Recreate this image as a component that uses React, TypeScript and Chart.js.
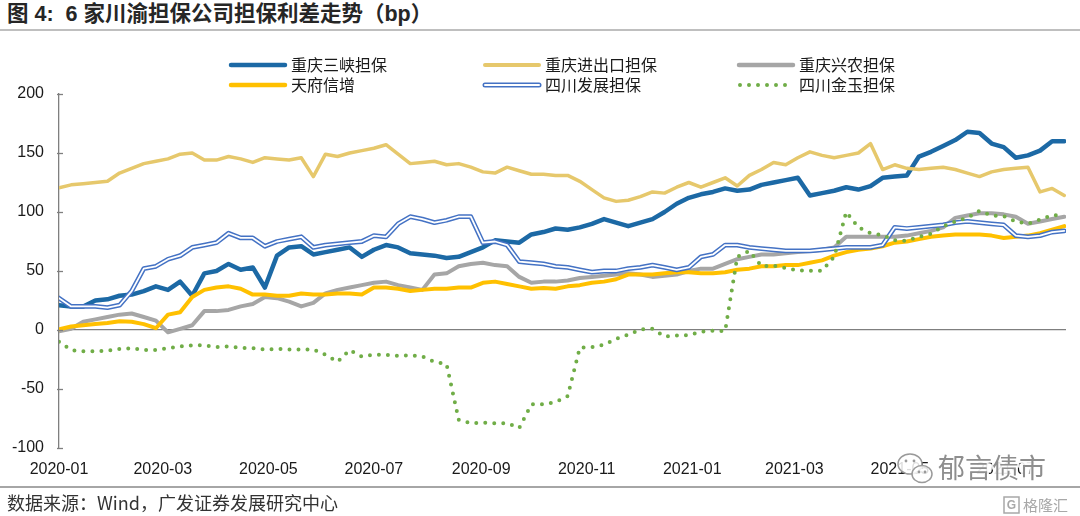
import React, { useEffect, useRef } from 'react';
import { Chart, registerables } from 'chart.js';

Chart.register(...registerables);

// ---------- data ----------
const dates = [
  '2020-01-01', '2020-01-08', '2020-01-15', '2020-01-22', '2020-01-29', '2020-02-05', '2020-02-12', '2020-02-19', '2020-02-26', '2020-03-04',
  '2020-03-11', '2020-03-18', '2020-03-25', '2020-04-01', '2020-04-08', '2020-04-15', '2020-04-22', '2020-04-29', '2020-05-06', '2020-05-13',
  '2020-05-20', '2020-05-27', '2020-06-03', '2020-06-10', '2020-06-17', '2020-06-24', '2020-07-01', '2020-07-08', '2020-07-15', '2020-07-22',
  '2020-07-29', '2020-08-05', '2020-08-12', '2020-08-19', '2020-08-26', '2020-09-02', '2020-09-09', '2020-09-16', '2020-09-23', '2020-09-30',
  '2020-10-07', '2020-10-14', '2020-10-21', '2020-10-28', '2020-11-04', '2020-11-11', '2020-11-18', '2020-11-25', '2020-12-02', '2020-12-09',
  '2020-12-16', '2020-12-23', '2020-12-30', '2021-01-06', '2021-01-13', '2021-01-20', '2021-01-27', '2021-02-03', '2021-02-10', '2021-02-17',
  '2021-02-24', '2021-03-03', '2021-03-10', '2021-03-17', '2021-03-24', '2021-03-31', '2021-04-07', '2021-04-14', '2021-04-21', '2021-04-28',
  '2021-05-05', '2021-05-12', '2021-05-19', '2021-05-26', '2021-06-02', '2021-06-09', '2021-06-16', '2021-06-23', '2021-06-30', '2021-07-07',
  '2021-07-14', '2021-07-21', '2021-07-28', '2021-08-04',
];

const sanxia = [
  21, 20, 20, 25, 26, 29, 30, 33, 37, 34,
  41, 29, 48, 50, 56, 51, 53, 36, 63, 70,
  71, 64, 66, 68, 70, 62, 68, 72, 70, 65,
  64, 63, 61, 62, 66, 70, 76, 75, 74, 81,
  83, 86, 85, 87, 90, 94, 91, 88, 91, 94,
  100, 107, 112, 115, 117, 120, 118, 119, 123, 125,
  127, 129, 114, 116, 118, 121, 119, 122, 129, 130,
  131, 147, 151, 156, 161, 168, 167, 158, 155, 146,
  148, 152, 160, 160,
];

const jinchukou = [
  120.5, 123, 124, 125, 126, 133, 137, 141, 143, 145,
  149, 150, 144, 144, 147, 145, 142, 146, 145, 144,
  146, 130, 149, 147, 150, 152, 154, 157, 149, 141,
  142, 143, 140, 141, 138, 134, 133, 138, 135, 132,
  132, 131, 131, 126, 119, 112, 109, 110, 113, 117,
  116, 121, 125, 121, 125, 129, 122, 131, 136, 142,
  140, 146, 151, 148, 146, 148, 150, 158, 136, 140,
  137, 136, 137, 138, 136, 133, 130, 134, 136, 137,
  138, 117, 120, 114,
];

const xingnong = [
  -1, 1, 7, 9, 11, 13, 14, 11, 8, -2,
  1, 4, 16, 16, 17, 20, 22, 28, 27, 24,
  20, 23, 31, 34, 36, 38, 40, 41, 38, 36,
  34, 47, 48, 54, 56, 57, 55, 54, 45, 40,
  41, 41, 42, 44, 45, 46, 47, 48, 47, 45,
  46, 47, 50, 52, 52, 56, 60, 62, 64, 64,
  65, 66, 67, 68, 70, 79, 79, 79, 79, 79,
  80, 82, 84, 87, 95, 97, 99, 99, 98, 96,
  90, 92, 94, 96,
];

const tianfu = [
  0.5, 3, 4, 5, 6, 7.5, 7, 5, 1.5, 13,
  15, 28, 34, 36, 37, 35, 30, 30, 29, 29,
  31, 30, 30, 31, 31, 30, 36, 36, 35, 33,
  34, 35, 35, 36, 36, 40, 41, 39, 37, 35,
  35.5, 35, 37, 38, 40, 41, 43, 47, 47, 47,
  48, 49, 49, 48, 48, 49, 51, 52, 54, 54,
  55, 55, 57, 59, 63, 66, 68, 69, 71, 74,
  75, 77, 79, 80, 81, 81, 81, 80, 78, 79,
  80, 82, 85, 88,
];

const sichuanFazhan = [
  27, 20, 20, 20, 19, 21, 33, 52, 54, 60,
  63, 70, 72, 74, 82, 78, 78, 71, 75, 77,
  79, 70, 72, 73, 74, 75, 80, 79, 90, 96,
  94, 91, 93, 96, 96, 74, 75, 72, 58, 57,
  56, 54, 53, 51, 49, 50, 50, 52, 53, 55,
  53, 51, 53, 62, 64, 72, 72, 70, 69, 68,
  67, 67, 67, 68, 69, 70, 70, 70, 72, 87,
  86, 87, 88, 89, 91, 92, 91, 90, 89, 80,
  79, 80, 83, 84,
];

const sichuanJinyu = [
  -10, -17, -18, -18, -17.5, -16, -15.5, -17, -17, -15.5,
  -14, -13, -13, -14.5, -14, -15, -15.5, -16.5, -16, -16.5,
  -16.5, -16.5, -21, -27, -17, -22.5, -21, -21, -22, -21.5,
  -22.5, -27, -29, -76, -79, -78.5, -79, -79, -83, -63,
  -63, -61, -56, -15, -14.5, -12.5, -7.5, -4, 0.5, 1,
  -5.5, -4.6, -4.3, -1.5, -0.6, -1, 62, 67, 54, 54.5,
  52.5, 50.5, 50.2, 50.2, 62, 100, 87, 82, 80.5, 76,
  75.5, 79, 81.5, 88, 92, 95, 101, 97, 96.5, 92,
  90, 93.5, 97.5, 96.5,
];

const seriesNames = ['重庆三峡担保', '重庆进出口担保', '重庆兴农担保', '天府信增', '四川发展担保', '四川金玉担保'];

const tickDates = ['2020-01-01', '2020-03-01', '2020-05-01', '2020-07-01', '2020-09-01', '2020-11-01', '2021-01-01', '2021-03-01', '2021-05-01', '2021-07-01'];
const tickLabels = ['2020-01', '2020-03', '2020-05', '2020-07', '2020-09', '2020-11', '2021-01', '2021-03', '2021-05', '2021-07'];
const axisStartDate = '2020-01-01';
const axisEndDate = '2021-08-05';
const yTicks = { min: -100, max: 200, step: 50 };

const titleText = '图 4:  6 家川渝担保公司担保利差走势（bp）';
const sourceText = '数据来源：Wind，广发证券发展研究中心';
const watermarkText = '郁言债市';
const logoText = '格隆汇';

// ---------- styles ----------
const C_SANXIA = '#1C69A5';
const C_JCK = '#E6C86C';
const C_XN = '#A6A6A6';
const C_TF = '#FFC000';
const C_FZ = '#4472C4';
const C_JY = '#70AD47';
const AXIS = '#7F7F7F';
const TEXT = '#1A1A1A';
const LATIN = '"Liberation Sans", Arial, "Noto Sans CJK SC", sans-serif';
const CJK = '"Noto Sans CJK SC", "Liberation Sans", sans-serif';

const dayOf = (s: string) =>
  (Date.UTC(+s.slice(0, 4), +s.slice(5, 7) - 1, +s.slice(8, 10)) - Date.UTC(2020, 0, 1)) / 86400000;

const legendLayout = [
  { name: seriesNames[0], kind: 'solid', color: C_SANXIA, width: 4.5, x: 231, y: 65 },
  { name: seriesNames[1], kind: 'solid', color: C_JCK, width: 4, x: 485, y: 65 },
  { name: seriesNames[2], kind: 'solid', color: C_XN, width: 4.5, x: 739, y: 65 },
  { name: seriesNames[3], kind: 'solid', color: C_TF, width: 4.5, x: 231, y: 85 },
  { name: seriesNames[4], kind: 'double', color: C_FZ, width: 5, x: 485, y: 85 },
  { name: seriesNames[5], kind: 'dot', color: C_JY, width: 4, x: 739, y: 85 },
];

const overlayPlugin = {
  id: 'overlay',
  afterDraw(chart: any) {
    const ctx: CanvasRenderingContext2D = chart.ctx;
    const ys = chart.scales.y;
    ctx.save();
    // cross tick marks on y-axis
    ctx.strokeStyle = AXIS;
    ctx.lineWidth = 1.3;
    ys.ticks.forEach((t: any) => {
      const py = Math.round(ys.getPixelForValue(t.value)) + 0.5;
      ctx.beginPath();
      ctx.moveTo(ys.right - 2, py);
      ctx.lineTo(ys.right + 4, py);
      ctx.stroke();
    });
    // legend
    legendLayout.forEach((it) => {
      const x0 = it.x, x1 = it.x + 54, y = it.y;
      ctx.setLineDash([]);
      ctx.lineCap = 'round';
      if (it.kind === 'solid') {
        ctx.strokeStyle = it.color; ctx.lineWidth = it.width;
        ctx.beginPath(); ctx.moveTo(x0, y); ctx.lineTo(x1, y); ctx.stroke();
      } else if (it.kind === 'double') {
        ctx.strokeStyle = it.color; ctx.lineWidth = it.width;
        ctx.beginPath(); ctx.moveTo(x0, y); ctx.lineTo(x1, y); ctx.stroke();
        ctx.strokeStyle = '#ffffff'; ctx.lineWidth = 2;
        ctx.beginPath(); ctx.moveTo(x0, y); ctx.lineTo(x1, y); ctx.stroke();
      } else {
        ctx.strokeStyle = it.color; ctx.lineWidth = it.width;
        ctx.setLineDash([0, 9]);
        ctx.beginPath(); ctx.moveTo(x0 + 1, y); ctx.lineTo(x1, y); ctx.stroke();
        ctx.setLineDash([]);
      }
      ctx.fillStyle = TEXT;
      ctx.font = '16px ' + CJK;
      ctx.textBaseline = 'middle';
      ctx.textAlign = 'left';
      ctx.fillText(it.name, x1 + 6, y);
    });
    // watermark icon + text
    ctx.lineCap = 'butt';
    ctx.lineWidth = 1.5;
    ctx.strokeStyle = '#9a9a9a';
    ctx.fillStyle = 'rgba(255,255,255,0.85)';
    ctx.beginPath(); ctx.ellipse(910, 464, 12, 10, 0, 0, Math.PI * 2); ctx.fill(); ctx.stroke();
    ctx.beginPath(); ctx.ellipse(922, 474, 10, 8.5, 0, 0, Math.PI * 2); ctx.fill(); ctx.stroke();
    ctx.fillStyle = '#9a9a9a';
    [[906, 461], [914, 461], [919, 472], [925, 472]].forEach(([cx, cy]) => {
      ctx.beginPath(); ctx.arc(cx, cy, 1.4, 0, Math.PI * 2); ctx.fill();
    });
    ctx.font = '27px ' + CJK;
    ctx.textBaseline = 'middle';
    ctx.lineWidth = 4;
    ctx.strokeStyle = 'rgba(255,255,255,0.9)';
    ctx.strokeText(watermarkText, 938, 468);
    ctx.fillStyle = '#8E8E8E';
    ctx.fillText(watermarkText, 938, 468);
    // logo bottom-right
    ctx.lineWidth = 1.5;
    ctx.strokeStyle = '#a8a8a8';
    ctx.strokeRect(1004, 497, 15, 16);
    ctx.fillStyle = '#a8a8a8';
    ctx.font = 'bold 12px ' + LATIN;
    ctx.textAlign = 'center';
    ctx.fillText('G', 1011.5, 505.5);
    ctx.textAlign = 'left';
    ctx.font = '15px ' + CJK;
    ctx.fillText(logoText, 1023, 505);
    ctx.restore();
  },
};

export default function App() {
  const ref = useRef<HTMLCanvasElement | null>(null);

  useEffect(() => {
    if (!ref.current) return;
    const days = dates.map(dayOf);
    const tickDays = tickDates.map(dayOf);
    const pts = (vals: number[]) => days.map((d, i) => ({ x: d, y: vals[i] }));
    const base = {
      pointRadius: 0,
      pointHoverRadius: 0,
      tension: 0,
      fill: false,
      borderJoinStyle: 'round' as const,
      borderCapStyle: 'round' as const,
    };
    const chart = new Chart(ref.current, {
      type: 'line',
      data: {
        datasets: [
          { ...base, label: seriesNames[5], data: pts(sichuanJinyu), borderColor: C_JY, borderWidth: 4, borderDash: [0, 9] },
          { ...base, label: seriesNames[4] + '-inner', data: pts(sichuanFazhan), borderColor: '#ffffff', borderWidth: 1.8 },
          { ...base, label: seriesNames[4], data: pts(sichuanFazhan), borderColor: C_FZ, borderWidth: 4.8 },
          { ...base, label: seriesNames[3], data: pts(tianfu), borderColor: C_TF, borderWidth: 4 },
          { ...base, label: seriesNames[2], data: pts(xingnong), borderColor: C_XN, borderWidth: 4 },
          { ...base, label: seriesNames[1], data: pts(jinchukou), borderColor: C_JCK, borderWidth: 3.5 },
          { ...base, label: seriesNames[0], data: pts(sanxia), borderColor: C_SANXIA, borderWidth: 4.5 },
        ] as any,
      },
      options: {
        animation: false,
        responsive: false,
        maintainAspectRatio: false,
        devicePixelRatio: 1,
        events: [],
        layout: { padding: { left: 0, right: 14, top: 94, bottom: 0 } },
        plugins: { legend: { display: false }, tooltip: { enabled: false }, title: { display: false } },
        scales: {
          x: {
            type: 'linear',
            min: dayOf(axisStartDate),
            max: dayOf(axisEndDate),
            grid: { display: false },
            border: { display: false },
            afterBuildTicks: (axis: any) => {
              axis.ticks = tickDays.map((v) => ({ value: v }));
            },
            afterFit: (axis: any) => {
              axis.height = 68;
            },
            ticks: {
              autoSkip: false,
              maxRotation: 0,
              minRotation: 0,
              padding: 4,
              color: TEXT,
              font: { family: LATIN, size: 16 },
              callback: (_v: any, i: number) => tickLabels[i],
            },
          },
          y: {
            min: yTicks.min,
            max: yTicks.max,
            afterFit: (axis: any) => {
              axis.width = 59;
            },
            grid: {
              drawTicks: false,
              lineWidth: 1.3,
              color: (c: any) => (c.tick && c.tick.value === 0 ? AXIS : 'rgba(0,0,0,0)'),
            },
            border: { display: true, color: AXIS, width: 1.3 },
            ticks: {
              stepSize: yTicks.step,
              padding: 15,
              color: TEXT,
              font: { family: LATIN, size: 16 },
            },
          },
        },
      } as any,
      plugins: [overlayPlugin],
    });
    return () => chart.destroy();
  }, []);

  return (
    <div style={{ position: 'fixed', left: 0, top: 0, width: 1080, height: 516, background: '#ffffff', overflow: 'hidden' }}>
      <div
        style={{
          position: 'absolute', left: 7, top: 0, height: 28, lineHeight: '28px',
          fontFamily: LATIN, fontWeight: 'bold', fontSize: 21.5, color: '#262626', whiteSpace: 'pre',
        }}
      >
        {titleText}
      </div>
      <div style={{ position: 'absolute', left: 0, top: 29, width: 1080, height: 1.5, background: '#BFBFBF' }} />
      <canvas ref={ref} width={1080} height={516} style={{ position: 'absolute', left: 0, top: 0, width: 1080, height: 516 }} />
      <div style={{ position: 'absolute', left: 0, top: 486, width: 1080, height: 1.5, background: '#A6A6A6' }} />
      <div
        style={{
          position: 'absolute', left: 7, top: 490, lineHeight: '24px',
          fontFamily: CJK, fontSize: 18, color: '#333333', whiteSpace: 'pre',
        }}
      >
        {sourceText}
      </div>
    </div>
  );
}
